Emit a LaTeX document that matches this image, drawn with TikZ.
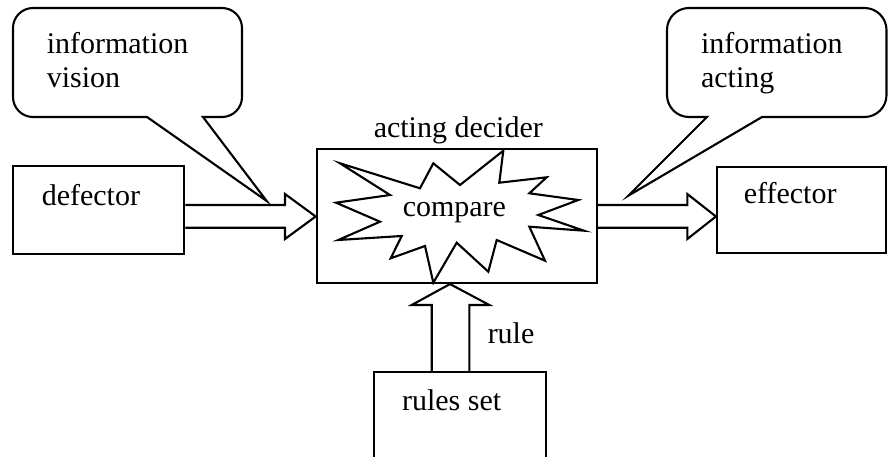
\documentclass[tikz,border=0pt]{standalone}
\usepackage{fontspec}
\setmainfont{Liberation Serif}
\usetikzlibrary{calc}
\begin{document}
\begin{tikzpicture}[x=1pt,y=-1pt,
  line width=2.1pt, line join=miter,
  boxnode/.style={draw, rectangle, inner sep=0pt, line width=2.1pt},
  txt/.style={inner sep=0pt, anchor=base west, font=\fontsize{30}{30}\selectfont},
  callout/.style={draw, line width=2.1pt, fill=white},
  blockarrow/.style={draw, line width=2.1pt}]
\useasboundingbox (0,0) rectangle (888,457);

% boxes
\node[boxnode, minimum width=171pt, minimum height=88pt] (defector) at (98.8,210) {};
\node[boxnode, minimum width=280pt, minimum height=134pt] (decider) at (456.7,216) {};
\node[boxnode, minimum width=169pt, minimum height=86pt] (effector) at (801.5,210) {};
\coordinate (rulesNW) at (374.3,371.7);
\coordinate (rulesNE) at (546,371.7);
\draw (rulesNW |- 0,458) -- (rulesNW) -- (rulesNE) -- (rulesNE |- 0,458);

% callouts
\draw[callout] (203,117) [rounded corners=20pt] -- (242,117) -- (242,8) -- (13,8) -- (13,117) [sharp corners] -- (147,117) -- (266.7,201) -- cycle;
\draw[callout] (762,117) [rounded corners=22pt] -- (886.5,117) -- (886.5,8) -- (667,8) -- (667,117) [sharp corners] -- (707,117) -- (628.3,195.7) -- cycle;

% starburst
\draw (340,163.3) -- (420,188.3) -- (433.3,163.3) -- (460,185) -- (503.3,150.7)
  -- (499.3,182.7) -- (546.7,177.3) -- (529.3,193.3) -- (578.3,200) -- (538.3,215)
  -- (584,230.7) -- (529.3,226.7) -- (545,260.7) -- (496.7,240) -- (488.3,271.7)
  -- (456.7,242.7) -- (433.3,282.7) -- (425,246) -- (390.7,258.3) -- (401.7,236)
  -- (338.3,240) -- (380,221.7) -- (336,202.7) -- (390,195) -- cycle;

% block arrows
\draw[blockarrow] (defector.east |- 0,205) -- (285,205) -- (285,194)
  -- (decider.west |- 0,216.5) -- (285,239) -- (285,227.7) -- (defector.east |- 0,227.7);
\draw[blockarrow] (decider.east |- 0,205) -- (687.3,205) -- (687.3,194)
  -- (effector.west |- 0,216.5) -- (687.3,239) -- (687.3,227.7) -- (decider.east |- 0,227.7);
\draw[blockarrow] (rulesNW -| 431.7,0) -- (431.7,305) -- (411.7,305)
  -- (decider.south -| 450,0) -- (489.3,305) -- (469.3,305) -- (rulesNW -| 469.3,0);

% texts
\node[txt] (t1) at (45.7,53.3) {information};
\node[txt] (t2) at (45.7,87.3) {vision};
\node[txt] (t3) at (40.7,205) {defector};
\node[txt] (t4) at (372.7,137.3) {acting decider};
\node[txt] (t5) at (401.7,216) {compare};
\node[txt] (t6) at (700,53.3) {information};
\node[txt] (t7) at (700,87.3) {acting};
\node[txt] (t8) at (742.7,204) {effector};
\node[txt] (t9) at (486.7,343.3) {rule};
\node[txt] (t10) at (401,410.7) {rules set};
\end{tikzpicture}
\end{document}
